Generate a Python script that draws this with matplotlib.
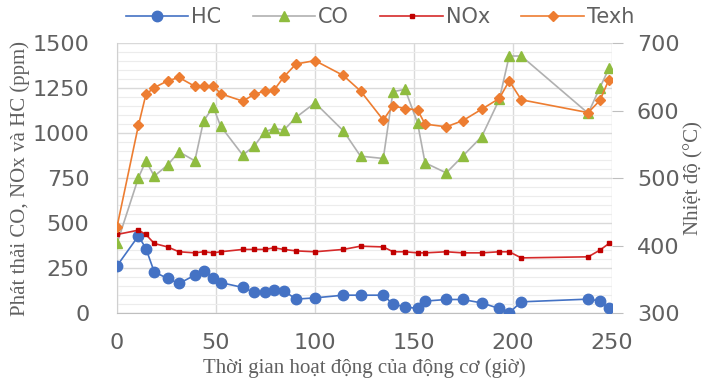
import matplotlib
matplotlib.use("Agg")
import matplotlib.pyplot as plt
from matplotlib.ticker import MultipleLocator

# operating time (h), shared by all series
hours = [0, 10.8, 14.6, 18.8, 25.5, 31.3, 39.3, 43.7, 48.6, 52.3, 63.5, 69.3,
         74.7, 79.2, 84.3, 90.4, 100, 114.3, 123, 134.5, 139.4, 145.5, 151.8,
         155.6, 166.3, 174.6, 184.2, 193.1, 198.1, 204.2, 238, 243.9, 248.5]

hc = [263, 429, 359, 229, 193, 165, 211, 235, 198, 170, 143, 115, 115, 128,
      124, 78, 85, 100, 100, 100, 50, 35, 26, 67, 76, 76, 57, 26, 2, 63, 78,
      68, 26]
co = [387, 752, 846, 761, 822, 896, 846, 1067, 1146, 1039, 878, 928, 1007,
      1026, 1017, 1087, 1168, 1013, 872, 859, 1230, 1243, 1057, 835, 779, 872,
      980, 1187, 1428, 1428, 1110, 1252, 1359]
nox = [437, 461, 437, 387, 368, 341, 335, 341, 335, 341, 354, 354, 354, 363,
       354, 346, 341, 354, 372, 368, 341, 341, 335, 335, 341, 335, 335, 341,
       341, 307, 313, 350, 387]
texh = [428, 578, 624, 634, 644, 649, 636, 636, 637, 625, 614, 624, 629, 630,
        650, 669, 674, 652, 629, 586, 607, 603, 601, 580, 576, 585, 602, 618,
        644, 616, 597, 615, 646]

GREY = "#606060"
GRID = "#d9d9d9"

fig, ax = plt.subplots(figsize=(7.05, 3.81), dpi=100)
fig.subplots_adjust(left=0.166, right=0.868, top=0.887, bottom=0.178)
ax2 = ax.twinx()

ax.set_xlim(0, 250)
ax.set_ylim(0, 1500)
ax2.set_ylim(300, 700)
ax.xaxis.set_major_locator(MultipleLocator(50))
ax.yaxis.set_major_locator(MultipleLocator(250))
ax.yaxis.set_minor_locator(MultipleLocator(50))
ax2.yaxis.set_major_locator(MultipleLocator(100))

ax.grid(which="major", color=GRID, lw=1.0)
ax.grid(which="minor", axis="y", color="#ececec", lw=0.8)
ax.set_axisbelow(True)

l_hc, = ax.plot(hours, hc, color="#4472c4", lw=1.2, marker="o", ms=7.5,
                label="HC", zorder=3)
l_co, = ax.plot(hours, co, color="#b0b0b0", lw=1.2, marker="^", ms=7.5,
                mfc="#8fbc3f", mec="#8fbc3f", label="CO", zorder=3)
l_nox, = ax.plot(hours, nox, color="#d62a2a", lw=1.2, marker="s", ms=3.5,
                 mfc="#c00000", mec="#c00000", label="NOx", zorder=3)
l_tx, = ax2.plot(hours, texh, color="#ed7d31", lw=1.2, marker="D", ms=5.5,
                 label="Texh", zorder=3)

for a in (ax, ax2):
    for s in a.spines.values():
        s.set_visible(False)
ax.spines["bottom"].set_visible(True)
ax.spines["bottom"].set_color("#bfbfbf")
ax.spines["left"].set_visible(True)
ax.spines["left"].set_color("#d0d0d0")

ax.tick_params(axis="y", which="both", length=0, labelsize=16,
               labelcolor=GREY, pad=20)
ax.tick_params(axis="x", length=0, labelsize=16, labelcolor=GREY, pad=14)
ax2.tick_params(axis="y", length=8, color="#bfbfbf", labelsize=16,
                labelcolor=GREY, pad=10)

ax.set_xlabel("Thời gian hoạt động của động cơ (giờ)", family="Liberation Serif",
              fontsize=15, color=GREY, labelpad=4)
ax.set_ylabel("Phát thải CO, NOx và HC (ppm)", family="Liberation Serif",
              fontsize=15, color=GREY, labelpad=2)
ax2.set_ylabel("Nhiệt độ (°C)", family="Liberation Serif", fontsize=15,
               color=GREY, labelpad=3)

leg = fig.legend(handles=[l_hc, l_co, l_nox, l_tx], loc="center",
                 bbox_to_anchor=(0.539, 0.955), ncol=4, frameon=False,
                 fontsize=15, handlelength=3.0, columnspacing=1.5,
                 handletextpad=0.15)
for t in leg.get_texts():
    t.set_color(GREY)

fig.savefig("out.png", dpi=100)
